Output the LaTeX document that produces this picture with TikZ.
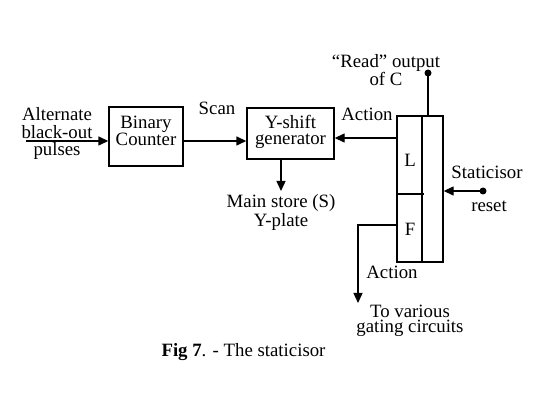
\documentclass[tikz,border=0pt]{standalone}
\usepackage{fontspec}
\setmainfont{Liberation Serif}
\usetikzlibrary{arrows.meta}
\begin{document}
\begin{tikzpicture}[x=1pt,y=-1pt,
  every node/.style={inner sep=0pt},
  txt/.style={font=\fontsize{18.8}{17}\selectfont, anchor=base},
  mtxt/.style={font=\fontsize{18.8}{#1}\selectfont, align=center},
  box/.style={draw, line width=1.4pt, inner sep=0pt},
  conn/.style={line width=1.4pt},
  arr/.style={conn, -{Triangle[length=10pt,width=9pt]}},
  dot/.style={circle, fill, minimum size=7pt, inner sep=0pt}]
\useasboundingbox (0,0) rectangle (546,411);
% boxes
\node[box, minimum width=74pt, minimum height=59pt] (bc) at (146,136.5) {};
\node[box, minimum width=87pt, minimum height=51pt] (ys) at (290.5,133.5) {};
\node[box, minimum width=46pt, minimum height=146pt] (st) at (420,189) {};
\draw[conn] ([xshift=2pt]st.north) -- ([xshift=2pt]st.south);
\draw[conn] ([yshift=-5pt]st.west) -- ++(28,0);
% dots
\node[dot] (rd) at (428,73) {};
\node[dot] (rs) at (483,191) {};
% coordinates
\coordinate (in) at (26,141);
\coordinate (ac) at (397,138);
\coordinate (msx) at (281,191);
\coordinate (fo) at (358,303);
% connectors
\draw[arr] (in) -- (in -| bc.west);
\draw[arr] (in -| bc.east) -- (in -| ys.west);
\draw[arr] (ac -| st.west) -- (ac -| ys.east);
\draw[arr] (msx |- ys.south) -- (msx);
\draw[conn] (rd.center) -- (rd.center |- st.north);
\draw[arr] (rs.center) -- (rs.center -| st.east);
\draw[arr] ([yshift=-36pt]st.west) -| (fo);
% texts
\node[mtxt=17.5] (alt) at (57,133.5) {Alternate\\black-out\\pulses};
\node[mtxt=16] (bct) at (146,131) {Binary\\Counter};
\node[txt] (scan) at (217,115) {Scan};
\node[mtxt=16] (yst) at (290.5,131.5) {Y-shift\\generator};
\node[txt] (act1) at (367,120.5) {Action};
\node[mtxt=16.5] (rdt) at (386,70) {“Read” output\\of C};
\node[txt] (lL) at (410,167) {L};
\node[txt] (lF) at (410,236) {F};
\node[txt] (stat) at (487,179) {Staticisor};
\node[txt] (reset) at (489,212) {reset};
\node[mtxt=17] (mst) at (281,212.5) {Main store (S)\\Y-plate};
\node[txt] (act2) at (392,279) {Action};
\node[mtxt=15] (tvt) at (410,321) {To various\\gating circuits};
\node[txt] (cap) at (243.5,357) {\textbf{Fig 7}. - The staticisor};
\end{tikzpicture}
\end{document}
